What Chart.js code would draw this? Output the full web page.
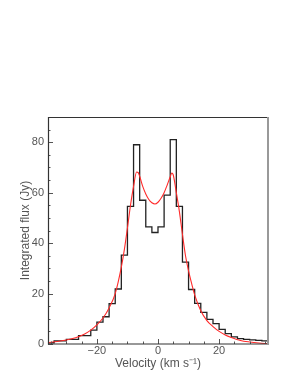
<!DOCTYPE html>
<html>
<head>
<meta charset="utf-8">
<script src="https://cdn.jsdelivr.net/npm/chart.js@4"></script>
<style>
  html, body { margin: 0; padding: 0; background: #fff; }
  canvas { display: block; }
</style>
</head>
<body>
<canvas id="chart" width="298" height="385"></canvas>
<script>
// Histogram bin edges (km/s) and integrated flux per bin (Jy)
const binEdges = [-36, -34, -32, -30, -28, -26, -24, -22, -20, -18, -16, -14, -12, -10, -8, -6, -4, -2,
                  0, 2, 4, 6, 8, 10, 12, 14, 16, 18, 20, 22, 24, 26, 28, 30, 32, 34, 36];
const binFlux = [0.5, 1.2, 1.2, 1.8, 1.8, 3.3, 3.3, 5.5, 8.7, 10.8, 16, 21.8, 35.2, 54.6, 79, 57, 46.4, 44.2,
                 46.4, 59, 81, 54.6, 32.5, 21.6, 16.1, 12.5, 9.8, 8.1, 5.8, 4.1, 2.8, 2.1, 1.8, 1.6, 1.4, 1.2];

// Model fit (red curve)
const fitVel = [-36, -33, -30, -27, -24, -22, -20, -18, -16, -14, -12, -11, -10, -9, -8, -7, -6.5, -6, -5, -4,
                -3, -2, -1, 0, 1, 2, 3, 4, 4.5, 5, 6, 7, 8, 9, 10, 11, 12, 14, 16, 18, 20, 22, 24, 27, 30, 33, 36];
const fitFlux = [0.5, 1.0, 1.6, 2.5, 4.0, 5.5, 7.6, 10.3, 14.3, 20, 30.5, 37.5, 46, 55, 62.5, 68.2, 68, 66.5, 62.5, 59.5,
                 57.3, 56, 55.5, 56.2, 57.8, 60, 63, 66.3, 67.8, 67, 60, 52.5, 43.5, 35, 29, 24, 19.5, 13.2, 9.3, 6.9, 5.0, 3.6, 2.6, 1.4, 0.8, 0.4, 0.15];

// Axis ticks
const xMajor = [-20, 0, 20];
const yMajor = [0, 20, 40, 60, 80];
const xMinor = [-35, -30, -25, -15, -10, -5, 5, 10, 15, 25, 30, 35];
const yMinor = [5, 10, 15, 25, 30, 35, 45, 50, 55, 65, 70, 75, 85];

const textColor = '#555';
const fontFamily = '"Liberation Sans", Arial, Helvetica, sans-serif';

// step line: each bin value held from its left edge to the next edge
const histPoints = binEdges.map((e, i) => ({x: e, y: i < binFlux.length ? binFlux[i] : binFlux[binFlux.length - 1]}));
const fitPoints = fitVel.map((v, i) => ({x: v, y: fitFlux[i]}));

// Frame and inward tick marks, like the original plot
const framePlugin = {
    id: 'frame',
    afterDatasetsDraw(chart) {
        const {ctx, chartArea: a, scales} = chart;
        ctx.save();
        ctx.lineCap = 'butt';

        ctx.strokeStyle = '#555';
        ctx.lineWidth = 1;
        xMajor.forEach(v => {
            const px = Math.round(scales.x.getPixelForValue(v)) + 0.5;
            ctx.beginPath(); ctx.moveTo(px, a.bottom); ctx.lineTo(px, a.bottom - 5); ctx.stroke();
        });
        xMinor.forEach(v => {
            const px = Math.round(scales.x.getPixelForValue(v)) + 0.5;
            ctx.beginPath(); ctx.moveTo(px, a.bottom); ctx.lineTo(px, a.bottom - 2.5); ctx.stroke();
        });
        yMajor.forEach(v => {
            const py = Math.round(scales.y.getPixelForValue(v)) + 0.5;
            ctx.beginPath(); ctx.moveTo(a.left, py); ctx.lineTo(a.left + 5, py); ctx.stroke();
        });
        yMinor.forEach(v => {
            const py = Math.round(scales.y.getPixelForValue(v)) + 0.5;
            ctx.beginPath(); ctx.moveTo(a.left, py); ctx.lineTo(a.left + 2.5, py); ctx.stroke();
        });

        // box
        ctx.strokeStyle = '#333';
        ctx.lineWidth = 1.2;
        ctx.beginPath();
        ctx.moveTo(a.right, a.top + 0.5);
        ctx.lineTo(a.left + 0.5, a.top + 0.5);
        ctx.lineTo(a.left + 0.5, a.bottom);
        ctx.lineTo(a.right, a.bottom);
        ctx.stroke();
        ctx.strokeStyle = '#999';
        ctx.lineWidth = 2;
        ctx.beginPath();
        ctx.moveTo(a.right, a.top);
        ctx.lineTo(a.right, a.bottom + 1);
        ctx.stroke();
        ctx.restore();
    }
};

new Chart(document.getElementById('chart'), {
    type: 'line',
    data: {
        datasets: [
            {
                label: 'Observed',
                data: histPoints,
                stepped: 'before',
                borderColor: '#222',
                borderWidth: 1.3,
                pointRadius: 0,
                fill: false,
                order: 2
            },
            {
                label: 'Fit',
                data: fitPoints,
                borderColor: '#ff2a2a',
                borderWidth: 1.1,
                pointRadius: 0,
                cubicInterpolationMode: 'monotone',
                fill: false,
                order: 1
            }
        ]
    },
    options: {
        responsive: false,
        animation: false,
        devicePixelRatio: 1,
        layout: {
            padding: {top: 117, right: 30, left: 0, bottom: 0}
        },
        plugins: {
            legend: {display: false},
            tooltip: {enabled: false}
        },
        scales: {
            x: {
                type: 'linear',
                min: -36,
                max: 36,
                grid: {display: false, drawTicks: false},
                border: {display: false},
                afterFit: s => { s.height = 41; },
                ticks: {
                    stepSize: 20,
                    includeBounds: false,
                    padding: 0,
                    maxRotation: 0,
                    color: textColor,
                    font: {family: fontFamily, size: 11},
                    callback: v => String(v).replace('-', '\u2212')
                },
                title: {
                    display: true,
                    text: 'Velocity (km s\u207B\u00B9)',
                    color: textColor,
                    font: {family: fontFamily, size: 12},
                    padding: {top: 0, bottom: 14}
                }
            },
            y: {
                type: 'linear',
                min: 0,
                max: 90,
                grid: {display: false, drawTicks: false},
                border: {display: false},
                afterFit: s => { s.width = 48; },
                ticks: {
                    stepSize: 20,
                    includeBounds: false,
                    padding: 4,
                    color: textColor,
                    font: {family: fontFamily, size: 11}
                },
                title: {
                    display: true,
                    text: 'Integrated flux (Jy)',
                    color: textColor,
                    font: {family: fontFamily, size: 12},
                    padding: {top: 18, bottom: 0}
                }
            }
        }
    },
    plugins: [framePlugin]
});
</script>
</body>
</html>
